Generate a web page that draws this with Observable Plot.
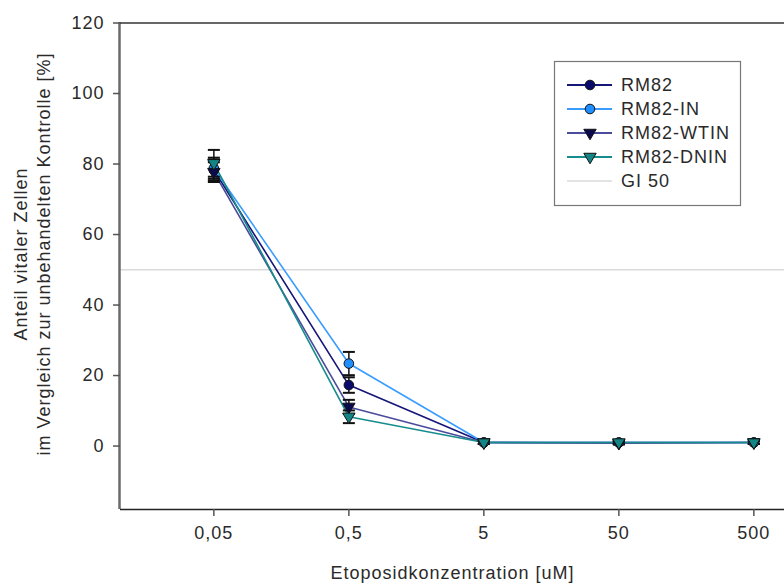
<!DOCTYPE html>
<html><head><meta charset="utf-8">
<script src="https://cdn.jsdelivr.net/npm/d3@7"></script>
<script src="https://cdn.jsdelivr.net/npm/@observablehq/plot@0.6"></script>
<style>
body{margin:0;background:#fff;overflow:hidden}
#chart{position:relative;width:784px;height:587px;overflow:hidden}
#chart text{letter-spacing:1px}
</style>
</head><body><div id="chart"></div>
<script>
// ---- data ----
const concentrations = [0.05, 0.5, 5, 50, 500];
const xTickLabels = ["0,05", "0,5", "5", "50", "500"];
const yTicks = [0, 20, 40, 60, 80, 100, 120];
const seriesNames = ["RM82", "RM82-IN", "RM82-WTIN", "RM82-DNIN"];
const rm82 = [78.3, 17.3, 1.0, 1.0, 1.0];
const rm82Err = [3.0, 2.2, 0.4, 0.4, 0.4];
const rm82In = [78.8, 23.4, 1.0, 1.0, 1.0];
const rm82InErr = [3.0, 3.3, 0.4, 0.4, 0.4];
const rm82Wtin = [77.7, 11.1, 1.0, 0.8, 1.0];
const rm82WtinErr = [2.8, 2.0, 0.4, 0.4, 0.4];
const rm82Dnin = [80.2, 8.3, 1.0, 1.0, 1.0];
const rm82DninErr = [3.8, 1.8, 0.4, 0.4, 0.4];
const gi50 = [50];
const gi50Label = "GI 50";
const xDomain = [0.01, 1000];
const yDomain = [-18, 120];
const xLabel = "Etoposidkonzentration [uM]";
const yLabel = "Anteil vitaler Zellen\nim Vergleich zur unbehandelten Kontrolle [%]";

// ---- styles ----
const triangleDown = {
  draw(ctx, size) {
    const r = Math.sqrt(size / Math.PI);
    ctx.moveTo(-r, -0.6 * r);
    ctx.lineTo(r, -0.6 * r);
    ctx.lineTo(0, 1.1 * r);
    ctx.closePath();
  }
};
const capSymbol = {
  draw(ctx, size) {
    const r = Math.sqrt(size / Math.PI);
    ctx.moveTo(-r, 0);
    ctx.lineTo(r, 0);
  }
};
const styles = {
  "RM82":      {line: "#15157a", fill: "#0b0b6e", symbol: "circle"},
  "RM82-IN":   {line: "#3a9cff", fill: "#1f8fff", symbol: "circle"},
  "RM82-WTIN": {line: "#4b4b9c", fill: "#0a0a4c", symbol: triangleDown},
  "RM82-DNIN": {line: "#178c8c", fill: "#138585", symbol: triangleDown}
};
const valuesBySeries = [rm82, rm82In, rm82Wtin, rm82Dnin];
const errBySeries = [rm82Err, rm82InErr, rm82WtinErr, rm82DninErr];

const rows = seriesNames.map((s, si) => concentrations.map((c, i) => ({
  series: s, x: c, y: valuesBySeries[si][i],
  lo: valuesBySeries[si][i] - errBySeries[si][i], hi: valuesBySeries[si][i] + errBySeries[si][i]
})));

const font = "Liberation Sans, Arial, sans-serif";
const textColor = "#2a2a2a";
const fs = 18;

const marks = [
  Plot.ruleY(gi50, {stroke: "#dadada", strokeWidth: 1.5}),
  ...rows.map((d, si) => Plot.line(d, {x: "x", y: "y", stroke: styles[seriesNames[si]].line, strokeWidth: 1.6})),
  ...rows.map(d => Plot.ruleX(d, {x: "x", y1: "lo", y2: "hi", stroke: "#111", strokeWidth: 1.5})),
  ...rows.map(d => Plot.dot(d, {x: "x", y: "lo", symbol: capSymbol, r: 6, stroke: "#111", strokeWidth: 2})),
  ...rows.map(d => Plot.dot(d, {x: "x", y: "hi", symbol: capSymbol, r: 6, stroke: "#111", strokeWidth: 2})),
  ...rows.map((d, si) => Plot.dot(d, {x: "x", y: "y", symbol: styles[seriesNames[si]].symbol,
      r: styles[seriesNames[si]].symbol === "circle" ? 4.8 : 6.2, fill: styles[seriesNames[si]].fill, stroke: "#111", strokeWidth: 1})),
  Plot.ruleX([xDomain[0]], {stroke: "#6a6a6a", strokeWidth: 2.5}),
  Plot.ruleY([yDomain[0]], {stroke: "#222", strokeWidth: 1.6}),
  Plot.ruleY([yDomain[1]], {stroke: "#333", strokeWidth: 1.6}),
  Plot.axisY({ticks: yTicks, tickSize: 7, tickPadding: 9, label: null, stroke: "#555", strokeWidth: 1.5, fontSize: fs}),
  Plot.axisX({ticks: concentrations, tickSize: 7, text: null, label: null, stroke: "#555", strokeWidth: 1.5}),
  Plot.text(xTickLabels, {x: concentrations, text: d => d, frameAnchor: "bottom", dy: 29, fontSize: fs, fill: textColor}),
  Plot.text([xLabel], {frameAnchor: "bottom", dy: 69, dx: 0, fontSize: fs, fill: textColor}),
  Plot.text([yLabel], {frameAnchor: "left", textAnchor: "middle", rotate: -90, dx: -89, dy: -12, lineHeight: 1.25, fontSize: fs, fill: textColor})
];

const chart = Plot.plot({
  width: 784,
  height: 587,
  marginLeft: 120,
  marginTop: 22,
  marginBottom: 78,
  marginRight: 0,
  style: {fontFamily: font, fontSize: fs + "px", color: textColor, background: "#fff", overflow: "visible"},
  x: {type: "log", domain: xDomain, range: [119, 794]},
  y: {domain: yDomain, range: [509, 22.5]},
  marks
});
document.getElementById("chart").appendChild(chart);

// ---- legend overlay ----
const svg = d3.select(chart);
const lg = svg.append("g").attr("font-family", font).attr("font-size", fs).attr("text-anchor", "start");
lg.append("rect").attr("x", 554.5).attr("y", 61.5).attr("width", 186).attr("height", 144)
  .attr("fill", "#fff").attr("stroke", "#777").attr("stroke-width", 1.2);
const legendItems = [...seriesNames, gi50Label];
legendItems.forEach((name, i) => {
  const y = 85 + i * 24;
  const st = styles[name];
  lg.append("line").attr("x1", 567).attr("x2", 612).attr("y1", y).attr("y2", y)
    .attr("stroke", st ? st.line : "#dadada").attr("stroke-width", st ? 2 : 1.5);
  if (st) {
    const isCircle = st.symbol === "circle";
    const r = isCircle ? 4.8 : 6.2;
    lg.append("path").attr("transform", `translate(590,${y})`)
      .attr("d", d3.symbol().type(isCircle ? d3.symbolCircle : st.symbol).size(r * r * Math.PI)())
      .attr("fill", st.fill).attr("stroke", "#111").attr("stroke-width", 1);
  }
  lg.append("text").attr("x", 621).attr("y", y).attr("dy", "0.35em").attr("fill", textColor).text(name);
});
</script>
</body></html>
